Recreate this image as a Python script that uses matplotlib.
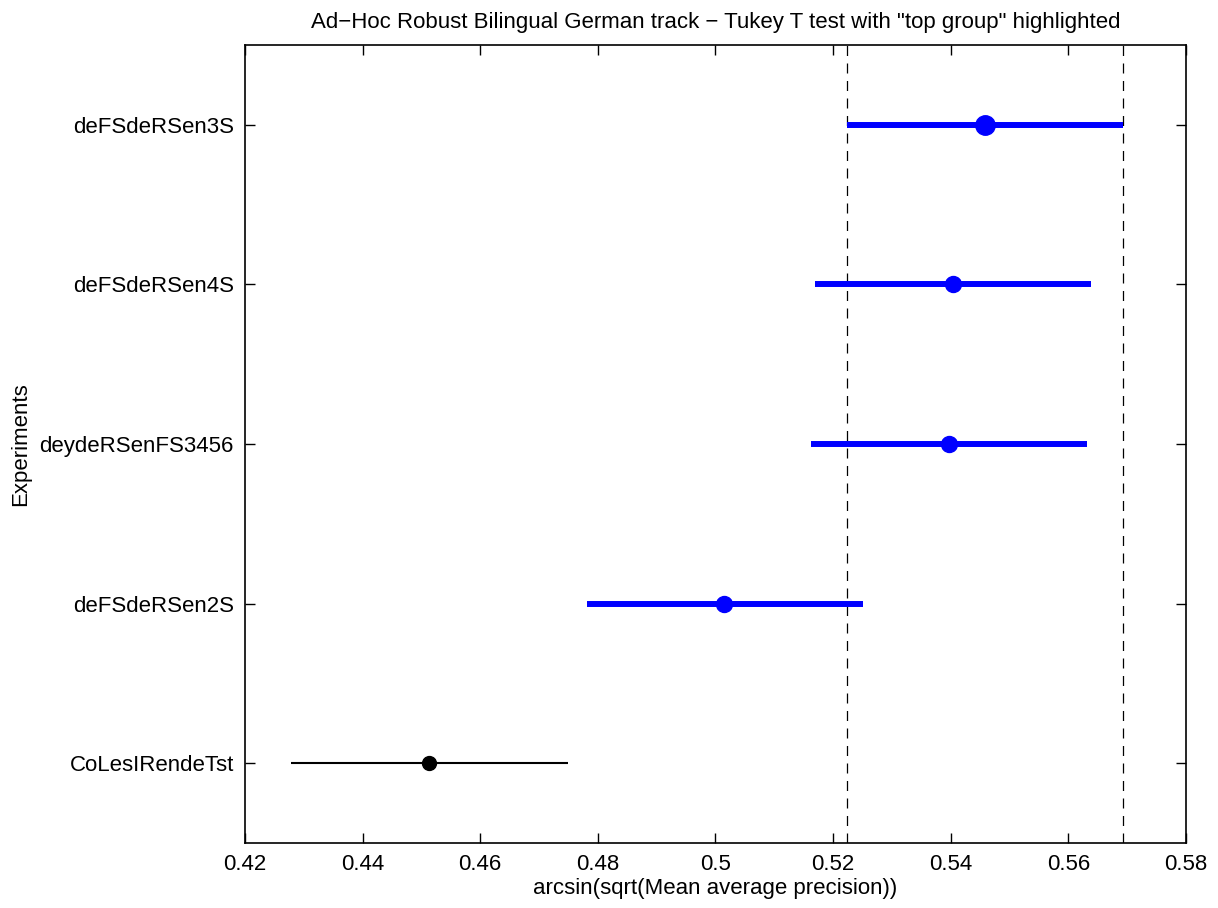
import matplotlib
matplotlib.use("Agg")
import matplotlib.pyplot as plt

plt.rcParams['font.family'] = ['Liberation Sans', 'DejaVu Sans']

experiments = ["CoLesIRendeTst", "deFSdeRSen2S", "deydeRSenFS3456", "deFSdeRSen4S", "deFSdeRSen3S"]
means = [0.4513, 0.5014, 0.5397, 0.5404, 0.5458]
lower = [0.4278, 0.4782, 0.5162, 0.5169, 0.5224]
upper = [0.4749, 0.5251, 0.5632, 0.5639, 0.5693]
in_top_group = [False, True, True, True, True]
highlighted = "deFSdeRSen3S"
group_bounds = [0.5224, 0.5693]
xticks = [0.42, 0.44, 0.46, 0.48, 0.5, 0.52, 0.54, 0.56, 0.58]
xticklabels = ["0.42", "0.44", "0.46", "0.48", "0.5", "0.52", "0.54", "0.56", "0.58"]

fig = plt.figure(figsize=(12.18, 9.08), dpi=100)
ax = fig.add_axes([0.2011, 0.0716, 0.7726, 0.8788])

ypos = list(range(1, len(experiments) + 1))
for y, name, m, lo, hi, top in zip(ypos, experiments, means, lower, upper, in_top_group):
    if top:
        ax.plot([lo, hi], [y, y], color='#0000ff', lw=4.3, solid_capstyle='butt', zorder=3)
        ms = 14 if name == highlighted else 11.5
        ax.plot([m], [y], 'o', color='#0000ff', ms=ms, zorder=4)
    else:
        ax.plot([lo, hi], [y, y], color='black', lw=1.5, solid_capstyle='butt', zorder=3)
        ax.plot([m], [y], 'o', color='black', ms=10, zorder=4)

for b in group_bounds:
    ax.axvline(b, color='black', lw=0.9, ls=(0, (8, 6)), zorder=2)

ax.set_xlim(0.42, 0.58)
ax.set_ylim(0.5, len(experiments) + 0.5)
ax.set_xticks(xticks)
ax.set_xticklabels(xticklabels)
ax.set_yticks(ypos)
ax.set_yticklabels(experiments)
ax.tick_params(direction='in', top=True, right=True, labelsize=16, length=7, width=1, pad=8)
for s in ax.spines.values():
    s.set_linewidth(1.2)

ax.set_title('Ad\u2212Hoc Robust Bilingual German track \u2212 Tukey T test with "top group" highlighted',
             fontsize=16, pad=12)
ax.set_xlabel('arcsin(sqrt(Mean average precision))', fontsize=16, labelpad=2)
ax.set_ylabel('Experiments', fontsize=16, labelpad=6)

fig.savefig('out.png', dpi=100)
